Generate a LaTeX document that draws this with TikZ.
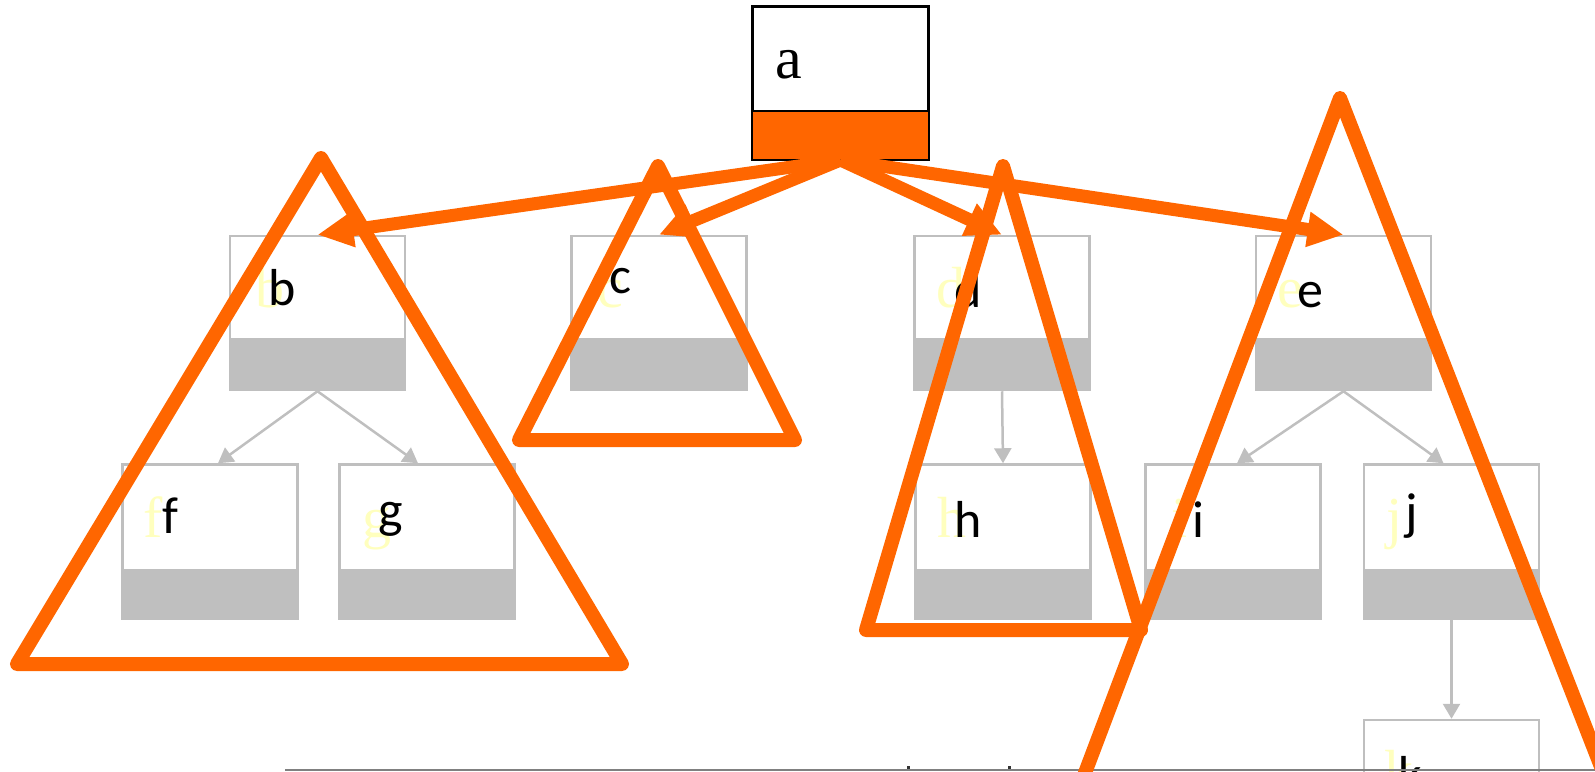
\documentclass[tikz,border=0pt]{standalone}
\usepackage{fontspec}
\setmainfont{Liberation Serif}
\newfontfamily\calib{Carlito}
\usetikzlibrary{arrows.meta}
\definecolor{orng}{HTML}{FF6600}
\definecolor{boxgray}{HTML}{BFBFBF}
\definecolor{linegray}{HTML}{808080}
\definecolor{ghostyel}{RGB}{255,255,190}
\tikzset{
  treebox/.style={draw=boxgray, line width=2.5pt, fill=white, minimum width=175pt, minimum height=154pt, inner sep=0pt},
  rootbox/.style={draw=black, line width=2pt, fill=white, minimum width=175pt, minimum height=152pt, inner sep=0pt},
  sanslab/.style={anchor=base west, inner sep=0pt, font=\calib\fontsize{52}{60}\selectfont, text=black},
  serlab/.style={anchor=base west, inner sep=0pt, font=\fontsize{60}{68}\selectfont, text=black},
  ghostlab/.style={anchor=base west, inner sep=0pt, font=\fontsize{58}{66}\selectfont, text=ghostyel},
  grayarrow/.style={draw=boxgray, line width=2.5pt, -{Triangle[length=15pt,width=17pt]}},
  orngarrow/.style={draw=orng, line width=13pt, -{Triangle[length=36pt,width=33pt]}},
  orngtri/.style={draw=orng, line width=14pt, line join=round, line cap=round}
}
\begin{document}
\begin{tikzpicture}[x=1pt,y=-1pt]
\useasboundingbox (0,0) rectangle (1595,771);
\clip (0,0) rectangle (1595,771);
% gray boxes
\node[treebox] (b) at (317.5,313) {};
\node[treebox] (c) at (659,313) {};
\node[treebox] (d) at (1002,313) {};
\node[treebox] (e) at (1343.5,313) {};
\node[treebox] (f) at (210,541.5) {};
\node[treebox] (g) at (427,541.5) {};
\node[treebox] (h) at (1003,541.5) {};
\node[treebox] (i) at (1233,541.5) {};
\node[treebox] (j) at (1451.5,541.5) {};
\node[treebox] (k) at (1451.5,797) {};
\foreach \n/\hh in {b/53,c/53,d/53,e/53,f/51,g/51,h/51,i/51,j/51,k/51}{
  \fill[boxgray] (\n.south west) rectangle ([yshift=\hh pt]\n.south east);
}
% gray connectors
\draw[grayarrow] (b.south) -- ([xshift=8pt]f.north);
\draw[grayarrow] (b.south) -- ([xshift=-9pt]g.north);
\draw[grayarrow] (d.south) -- (h.north);
\draw[grayarrow] (e.south) -- ([xshift=4pt]i.north);
\draw[grayarrow] (e.south) -- ([xshift=-8pt]j.north);
\draw[grayarrow] (j.south) -- (k.north);
% ghost letters
\node[ghostlab] (gb) at (255,307) {b};
\node[ghostlab] (gc) at (597,307) {c};
\node[ghostlab] (gd) at (936,307) {d};
\node[ghostlab] (ge) at (1277,307) {e};
\node[ghostlab] (gf) at (143,537) {f};
\node[ghostlab] (gg) at (362,537) {g};
\node[ghostlab] (gh) at (937,537) {h};
\node[ghostlab] (gi) at (1171,537) {i};
\node[ghostlab] (gj) at (1386,537) {j};
\node[ghostlab] (gk) at (1384,790) {k};
% labels
\node[sanslab] (lb) at (268,305) {b};
\node[sanslab] (lc) at (609,293) {c};
\node[sanslab] (ld) at (954,307) {d};
\node[sanslab] (le) at (1297,307) {e};
\node[sanslab] (lf) at (162,533) {f};
\node[sanslab] (lg) at (378,527) {g};
\node[sanslab] (lh) at (954,537) {h};
\node[sanslab] (li) at (1192,537) {i};
\node[sanslab] (lj) at (1405,529) {j};
\node[sanslab] (lk) at (1398,792) {k};
% root box
\node[rootbox] (a) at (840.5,83) {};
\fill[orng] ([xshift=1pt,yshift=1pt]a.south west) rectangle ([xshift=-1pt,yshift=49pt]a.south east);
\draw[black, line width=1.5pt] ([yshift=49pt]a.south west) -- ([yshift=49pt]a.south east);
\draw[black, line width=2pt] (a.south west) rectangle (a.north east);
\node[serlab] (la) at (775,78) {a};
% bottom rule
\coordinate (r1) at (285,769.5);
\coordinate (r2) at (1595,769.5);
\draw[linegray, line width=2pt] (r1) -- (r2);
\fill[black!80] (906.5,766) rectangle (909.5,769);
\fill[black!80] (1007.5,766) rectangle (1010.5,769);
% orange arrows
\draw[orngarrow] (a.south) -- (b.north);
\draw[orngarrow] (a.south) -- (c.north);
\draw[orngarrow] (a.south) -- (d.north);
\draw[orngarrow] (a.south) -- (e.north);
% orange triangles
\draw[orngtri] (321,158) -- (17,664) -- (622,664) -- cycle;
\draw[orngtri] (658,166) -- (519,440) -- (795,440) -- cycle;
\draw[orngtri] (1003,166) -- (866,630) -- (1141,630) -- cycle;
\draw[orngtri] (1340,98) -- (1037,900) -- (1653,900) -- cycle;
\end{tikzpicture}
\end{document}
